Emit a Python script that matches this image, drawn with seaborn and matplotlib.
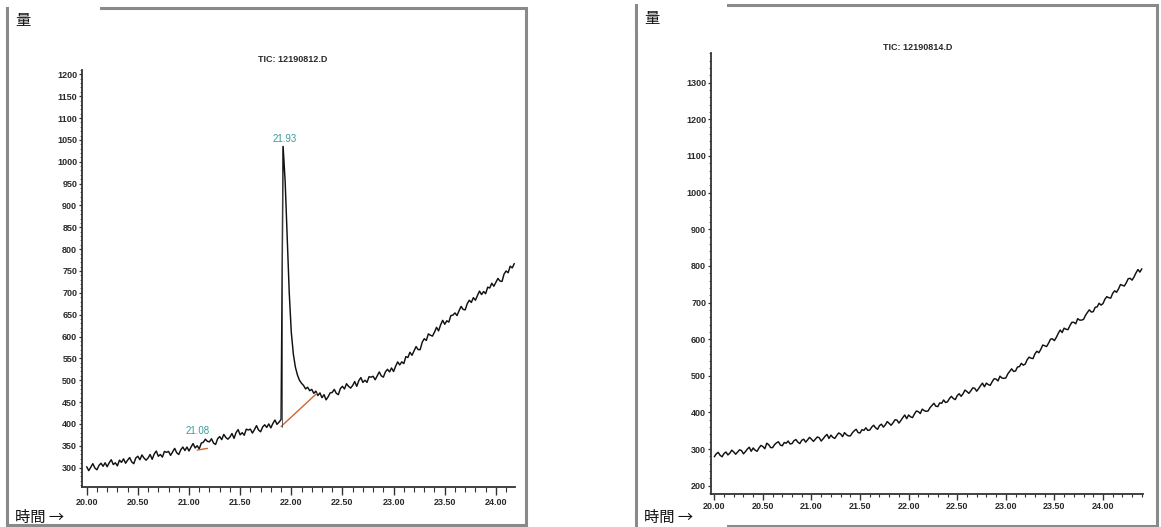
import numpy as np
import matplotlib
matplotlib.use("Agg")
import matplotlib.pyplot as plt
from matplotlib.patches import Rectangle
from matplotlib.ticker import MultipleLocator, FormatStrFormatter
import seaborn as sns

# ---------------- data ----------------
left_title = "TIC: 12190812.D"
right_title = "TIC: 12190814.D"
y_label = "量"
x_label = "時間 →"

left_t0, left_step = 20.00, 0.02
left_values = [
    302, 293, 301, 309, 299, 295, 305, 310, 303, 311,
    302, 311, 318, 307, 311, 304, 317, 312, 320, 310,
    317, 323, 313, 309, 322, 326, 318, 329, 322, 317,
    322, 330, 319, 331, 338, 326, 330, 324, 337, 335,
    337, 328, 336, 344, 334, 330, 341, 347, 339, 347,
    338, 347, 355, 345, 350, 343, 356, 358, 365, 360,
    359, 366, 356, 353, 366, 371, 364, 376, 369, 365,
    370, 378, 367, 380, 387, 375, 380, 374, 388, 386,
    388, 379, 387, 396, 386, 382, 393, 398, 392, 400,
    391, 401, 409, 399, 404,
    410,
    1035, 955, 830, 700, 610, 560, 530, 512, 500, 493,
    488, 480, 484, 476, 479, 470, 475, 465, 471, 460, 467, 455, 462, 471,
    472, 479, 470, 467, 481, 486, 480, 492, 486, 482,
    488, 497, 486, 499, 506, 495, 500, 495, 508, 507,
    509, 501, 510, 519, 510, 507, 519, 525, 519, 528,
    520, 532, 542, 535, 542, 538, 554, 552, 564, 557,
    567, 577, 570, 570, 587, 595, 591, 606, 603, 601,
    610, 621, 613, 627, 637, 628, 636, 633, 648, 649,
    654, 648, 659, 669, 662, 661, 675, 683, 678, 689,
    683, 694, 704, 696, 703, 698, 713, 711, 722, 715,
    724, 733, 727, 726, 743, 750, 746, 761, 757, 767,
]

right_t0, right_step = 20.00, 0.02
right_values = [
    279, 287, 291, 283, 279, 288, 292, 284, 289, 297,
    292, 286, 292, 298, 296, 287, 293, 300, 305, 294,
    303, 297, 294, 303, 310, 307, 301, 316, 312, 304,
    304, 312, 317, 320, 311, 309, 318, 316, 322, 314,
    315, 323, 326, 319, 315, 324, 327, 319, 325, 332,
    327, 321, 327, 333, 331, 322, 328, 335, 340, 329,
    338, 332, 329, 337, 344, 341, 334, 345, 339, 336,
    336, 344, 350, 354, 345, 344, 353, 351, 358, 351,
    352, 360, 365, 358, 354, 364, 368, 360, 366, 375,
    370, 365, 372, 380, 379, 371, 378, 386, 393, 383,
    393, 388, 386, 396, 404, 402, 397, 409, 405, 403,
    404, 413, 419, 425, 417, 416, 426, 425, 434, 427,
    429, 438, 444, 438, 435, 446, 451, 444, 451, 461,
    457, 452, 459, 467, 466, 458, 465, 473, 480, 470,
    480, 476, 474, 484, 492, 491, 486, 499, 494, 493,
    494, 505, 512, 519, 512, 513, 524, 525, 534, 529,
    532, 544, 551, 548, 547, 560, 567, 563, 572, 584,
    582, 580, 589, 600, 601, 596, 605, 616, 625, 618,
    630, 627, 626, 637, 646, 646, 642, 656, 652, 652,
    654, 665, 673, 680, 674, 675, 687, 688, 698, 693,
    697, 709, 716, 713, 712, 725, 732, 728, 737, 749,
    747, 745, 754, 765, 766, 761, 770, 781, 790, 783,
    792,
]

# peak annotations (left)
peak_labels = ["21.93", "21.08"]
peak_label_x = [21.935, 21.088]
peak_label_y = [1052, 383]
baseline_main_x = [21.90, 22.25]
baseline_main_y = [394, 470]
baseline_small_x = [21.08, 21.18]
baseline_small_y = [340, 344]
dropline_x = 21.905
dropline_y = [394, 1035]

left_t = left_t0 + left_step * np.arange(len(left_values))
right_t = right_t0 + right_step * np.arange(len(right_values))

# ---------------- figure ----------------
sns.set_style("white")
plt.rcParams['font.family'] = ['Liberation Sans', 'DejaVu Sans']

W, H = 1161, 527
fig = plt.figure(figsize=(W / 100, H / 100), dpi=100)


def fx(px):
    return px / W


def fy(py):
    return 1 - py / H


axL = fig.add_axes([fx(82), fy(487), fx(515) - fx(82), fy(70) - fy(487)])
axR = fig.add_axes([fx(711), fy(494), fx(1143) - fx(711), fy(53) - fy(494)])

sns.lineplot(x=left_t, y=left_values, ax=axL, color="#111111", lw=1.05)
sns.lineplot(x=right_t, y=right_values, ax=axR, color="#111111", lw=1.05)

teal = "#3b9c9c"
orange = "#d0642e"
axL.plot(baseline_main_x, baseline_main_y, color=orange, lw=1.0)
axL.plot(baseline_small_x, baseline_small_y, color=orange, lw=1.0)
axL.plot([dropline_x, dropline_x], dropline_y, color="#444444", lw=0.6)
for lab, xx, yy in zip(peak_labels, peak_label_x, peak_label_y):
    axL.text(xx, yy, lab, color=teal, fontsize=7, ha="center", va="center")

axL.set_xlim(19.954, 24.187)
axL.set_ylim(255.6, 1210)
axR.set_xlim(19.966, 24.412)
axR.set_ylim(177.4, 1381)

axL.yaxis.set_major_locator(MultipleLocator(50))
axL.yaxis.set_minor_locator(MultipleLocator(10))
axR.yaxis.set_major_locator(MultipleLocator(100))
axR.yaxis.set_minor_locator(MultipleLocator(20))

for ax in (axL, axR):
    ax.xaxis.set_major_locator(MultipleLocator(0.5))
    ax.xaxis.set_minor_locator(MultipleLocator(0.1))
    ax.yaxis.set_major_formatter(FormatStrFormatter("%d"))
    for s in ("top", "right"):
        ax.spines[s].set_visible(False)
    for s in ("left", "bottom"):
        ax.spines[s].set_color("#333333")
        ax.spines[s].set_linewidth(1.3)
    ax.set_xlabel("")
    ax.set_ylabel("")

axL.tick_params(axis="x", which="major", direction="out", length=6, width=1.0,
                color="#333333", pad=2, bottom=True)
axL.tick_params(axis="x", which="minor", direction="out", length=3.5, width=0.8,
                color="#333333", bottom=True)
axR.tick_params(axis="x", which="major", direction="out", length=4, width=1.0,
                color="#333333", pad=1.5, bottom=True)
axR.tick_params(axis="x", which="minor", direction="out", length=2.5, width=0.8,
                color="#333333", bottom=True)
for ax in (axL, axR):
    ax.tick_params(axis="y", which="major", direction="out", length=2.5, width=0.9,
                   color="#333333", pad=1, left=True)
    ax.tick_params(axis="y", which="minor", direction="out", length=1.5, width=0.6,
                   color="#555555", left=True)

axL.set_yticks([v for v in axL.get_yticks() if 300 <= v <= 1200])
axR.set_yticks([v for v in axR.get_yticks() if 200 <= v <= 1300])
axL.set_xticks(np.arange(20.0, 24.01, 0.5))
axR.set_xticks(np.arange(20.0, 24.01, 0.5))
for ax in (axL, axR):
    ax.xaxis.set_major_formatter(FormatStrFormatter("%.2f"))
    for lbl in ax.get_xticklabels() + ax.get_yticklabels():
        lbl.set_fontweight("bold")
        lbl.set_fontsize(6.5)
        lbl.set_color("#2a2a2a")

# titles
fig.text(fx(293), fy(60), left_title, ha="center", va="center", fontsize=6.5,
         fontweight="bold", color="#2a2a2a")
fig.text(fx(918), fy(48), right_title, ha="center", va="center", fontsize=6.5,
         fontweight="bold", color="#2a2a2a")

# frames
frame_kw = dict(transform=fig.transFigure, fill=False, edgecolor="#8a8a8a", lw=2.2)
fig.patches.append(Rectangle((fx(7), fy(525)), fx(526) - fx(7), fy(8) - fy(525), **frame_kw))
fig.patches.append(Rectangle((fx(636), fy(526)), fx(1157) - fx(636), fy(5) - fy(526), **frame_kw))

# white label boxes
box_kw = dict(transform=fig.transFigure, facecolor="white", edgecolor="none", zorder=5)
fig.patches.append(Rectangle((fx(9), fy(30)), fx(100) - fx(9), fy(5) - fy(30), **box_kw))
fig.patches.append(Rectangle((fx(638), fy(28)), fx(727) - fx(638), fy(2) - fy(28), **box_kw))
fig.patches.append(Rectangle((fx(638), fy(528)), fx(727) - fx(638), fy(511) - fy(528), **box_kw))

cjk = ['Noto Sans CJK JP', 'DejaVu Sans']
fig.text(fx(15), fy(20), y_label, ha="left", va="center", fontsize=11, family=cjk,
         color="#111111", zorder=6)
fig.text(fx(644), fy(18), y_label, ha="left", va="center", fontsize=11, family=cjk,
         color="#111111", zorder=6)
fig.text(fx(15), fy(517), x_label, ha="left", va="center", fontsize=11, family=cjk,
         color="#111111", zorder=6)
fig.text(fx(644), fy(517), x_label, ha="left", va="center", fontsize=11, family=cjk,
         color="#111111", zorder=6)

fig.savefig("out.png", dpi=100)
